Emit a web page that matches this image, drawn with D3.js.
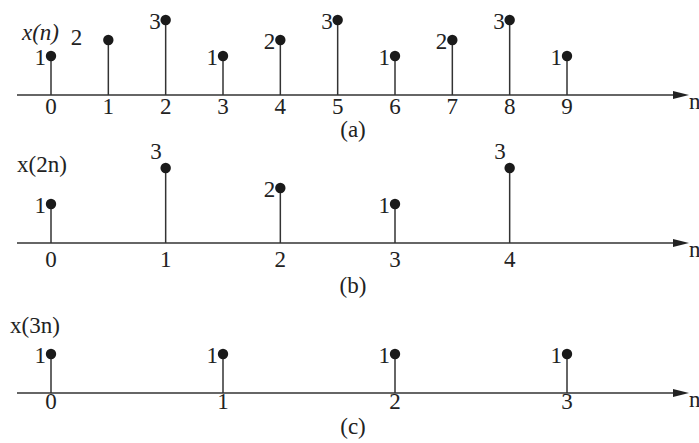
<!DOCTYPE html>
<html>
<head>
<meta charset="utf-8">
<script src="https://cdn.jsdelivr.net/npm/d3@7"></script>
<style>
  body { margin: 0; background: #fff; }
  svg text { font-family: "Liberation Serif", "Times New Roman", serif; fill: #222; }
</style>
</head>
<body>
<div id="chart"></div>
<script>
// Sequence values
const xn = [1, 2, 3, 1, 2, 3, 1, 2, 3, 1];   // x(n), n = 0..9
const x2n = [1, 3, 2, 1, 3];                 // x(2n), n = 0..4
const x3n = [1, 1, 1, 1];                    // x(3n), n = 0..3
const panelTitles = ['x(n)', 'x(2n)', 'x(3n)'];
const captions = ['(a)', '(b)', '(c)'];

// where each value label sits relative to its dot
const labelPlaceA = ['left', 'far', 'left', 'left', 'left', 'left', 'left', 'left', 'left', 'left'];
const labelPlaceB = ['left', 'top', 'left', 'left', 'top'];
const labelPlaceC = ['left', 'left', 'left', 'left'];

const width = 699, height = 443;
const svg = d3.select('#chart').append('svg')
    .attr('width', width).attr('height', height);

// shared time axis: sample index of the original x(n)
const x = d3.scaleLinear().domain([0, 9]).range([51, 567]);
// figure is not drawn to scale vertically
const h = d3.scaleLinear().domain([0, 1, 2, 3]).range([0, 39, 55, 75]);

const panels = [
    {data: xn, step: 1, place: labelPlaceA, axisY: 95, tickDy: 19, capY: 137, title: {x: 22, y: 40, italic: true}},
    {data: x2n, step: 2, place: labelPlaceB, axisY: 243, tickDy: 24, capY: 293, title: {x: 17, y: 172, italic: false}},
    {data: x3n, step: 3, place: labelPlaceC, axisY: 393, tickDy: 16, capY: 434, title: {x: 10, y: 333, italic: false}}
];

const fs = 23;

panels.forEach((p, i) => {
    const g = svg.append('g');
    const pts = p.data.map((v, n) => ({n, v, px: x(n * p.step), py: p.axisY - h(v), place: p.place[n]}));

    // horizontal axis with arrow
    g.append('line')
        .attr('x1', 17).attr('x2', 676)
        .attr('y1', p.axisY).attr('y2', p.axisY)
        .attr('stroke', '#333').attr('stroke-width', 1.3);
    g.append('path')
        .attr('d', `M673,${p.axisY - 4}L689,${p.axisY}L673,${p.axisY + 4}Z`)
        .attr('fill', '#222');
    g.append('text')
        .attr('x', 689).attr('y', p.axisY + 14)
        .attr('font-size', fs).text('n');

    // stems
    g.selectAll('line.stem').data(pts).join('line')
        .attr('class', 'stem')
        .attr('x1', d => d.px).attr('x2', d => d.px)
        .attr('y1', p.axisY).attr('y2', d => d.py)
        .attr('stroke', '#333').attr('stroke-width', 1.5);

    // dots
    g.selectAll('circle').data(pts).join('circle')
        .attr('cx', d => d.px).attr('cy', d => d.py)
        .attr('r', 5.2).attr('fill', '#1a1a1a');

    // value labels
    g.selectAll('text.val').data(pts).join('text')
        .attr('class', 'val')
        .attr('font-size', fs)
        .attr('text-anchor', 'end')
        .attr('x', d => d.place === 'far' ? d.px - 26 : d.place === 'top' ? d.px - 4 : d.px - 5)
        .attr('y', d => d.place === 'far' ? d.py + 5 : d.place === 'top' ? d.py - 9 : d.py + 9)
        .text(d => d.v);

    // tick labels
    g.selectAll('text.tick').data(pts).join('text')
        .attr('class', 'tick')
        .attr('font-size', fs)
        .attr('text-anchor', 'middle')
        .attr('x', d => d.px).attr('y', p.axisY + p.tickDy)
        .text(d => d.n);

    // panel title
    g.append('text')
        .attr('x', p.title.x).attr('y', p.title.y)
        .attr('font-size', fs)
        .attr('font-style', p.title.italic ? 'italic' : 'normal')
        .text(panelTitles[i]);

    // caption
    g.append('text')
        .attr('x', 353).attr('y', p.capY)
        .attr('text-anchor', 'middle')
        .attr('font-size', fs)
        .text(captions[i]);
});
</script>
</body>
</html>
